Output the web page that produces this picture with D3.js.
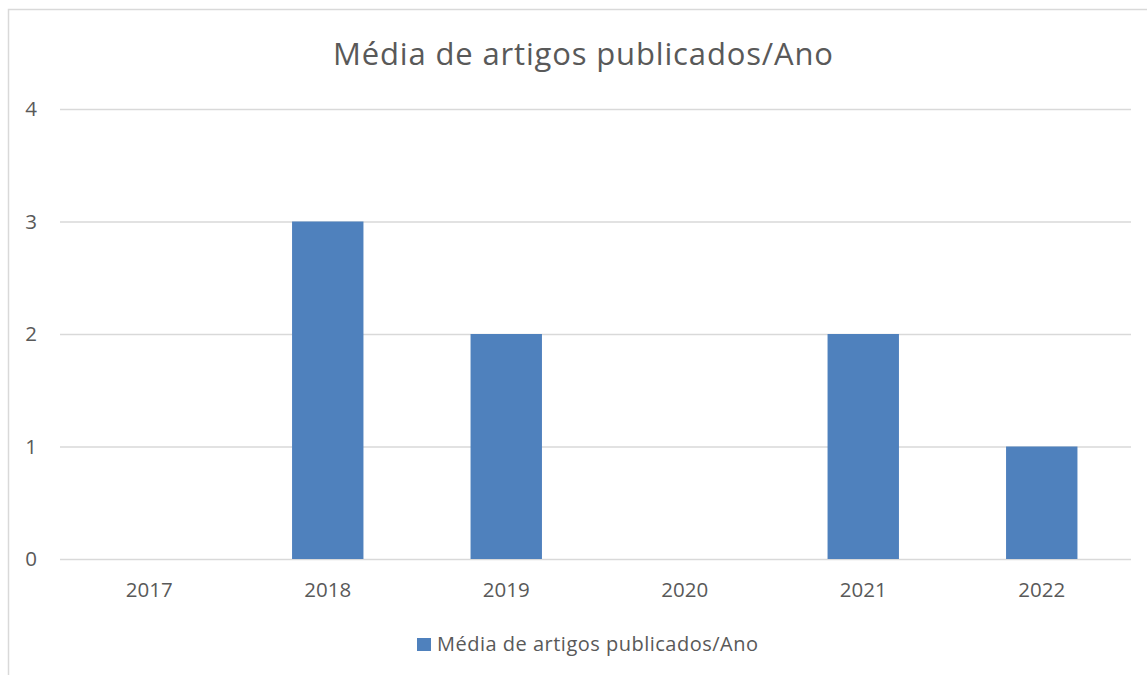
<!DOCTYPE html>
<html>
<head>
<meta charset="utf-8">
<script src="https://cdn.jsdelivr.net/npm/d3@7"></script>
<style>
  body { margin: 0; background: #fff; }
  text { font-family: "Open Sans", sans-serif; fill: #595959; }
</style>
</head>
<body>
<div id="chart"></div>
<script>
// data
var years = ["2017", "2018", "2019", "2020", "2021", "2022"];
var values = [0, 3, 2, 0, 2, 1];
var yTicks = [0, 1, 2, 3, 4];
var seriesName = "Média de artigos publicados/Ano";

var svgWidth = 1147;
var svgHeight = 675;

var margin = { top: 109, right: 16, bottom: 116, left: 60 };
var width = svgWidth - margin.left - margin.right;
var height = svgHeight - margin.top - margin.bottom;

var svg = d3.select("#chart")
  .append("svg")
  .attr("width", svgWidth)
  .attr("height", svgHeight);

// outer chart border (cropped at right and bottom)
svg.append("rect")
  .attr("x", 8.5)
  .attr("y", 9.5)
  .attr("width", 1150)
  .attr("height", 700)
  .attr("fill", "none")
  .attr("stroke", "#d9d9d9")
  .attr("stroke-width", 1.5);

var chartGroup = svg.append("g")
  .attr("transform", `translate(${margin.left}, ${margin.top})`);

var xScale = d3.scaleBand()
  .domain(years)
  .range([0, width])
  .paddingInner(0.6)
  .paddingOuter(0.3);

var yScale = d3.scaleLinear()
  .domain([0, 4])
  .range([height, 0]);

// gridlines + y labels
var leftAxis = d3.axisLeft(yScale)
  .tickValues(yTicks)
  .tickSize(-width)
  .tickPadding(23)
  .tickFormat(d3.format("d"));

var yAxisG = chartGroup.append("g").call(leftAxis);
yAxisG.select(".domain").remove();
yAxisG.selectAll("line").attr("stroke", "#d9d9d9").attr("stroke-width", 1.5);
yAxisG.selectAll("text").style("font-size", "20.5px").attr("fill", "#595959");

// bars
chartGroup.selectAll(".bar")
  .data(values)
  .enter()
  .append("rect")
  .attr("class", "bar")
  .attr("x", (d, i) => xScale(years[i]))
  .attr("y", d => yScale(d))
  .attr("width", xScale.bandwidth())
  .attr("height", d => height - yScale(d))
  .attr("fill", "#4f81bd");

// x axis labels
var bottomAxis = d3.axisBottom(xScale).tickSize(0).tickPadding(0);
var xAxisG = chartGroup.append("g")
  .attr("transform", `translate(0, ${height})`)
  .call(bottomAxis);
xAxisG.select(".domain").remove();
xAxisG.selectAll("text")
  .attr("y", 38)
  .attr("dy", null)
  .style("font-size", "20.5px")
  .attr("fill", "#595959");

// title
svg.append("text")
  .attr("x", 583)
  .attr("y", 65)
  .attr("text-anchor", "middle")
  .attr("textLength", 500)
  .attr("lengthAdjust", "spacing")
  .style("font-size", "31px")
  .text(seriesName);

// legend
var legend = svg.append("g").attr("transform", "translate(417, 638)");
legend.append("rect")
  .attr("width", 14)
  .attr("height", 13)
  .attr("fill", "#4f81bd");
legend.append("text")
  .attr("x", 20)
  .attr("y", 13)
  .attr("textLength", 321)
  .attr("lengthAdjust", "spacing")
  .style("font-size", "20px")
  .text(seriesName);
</script>
</body>
</html>
